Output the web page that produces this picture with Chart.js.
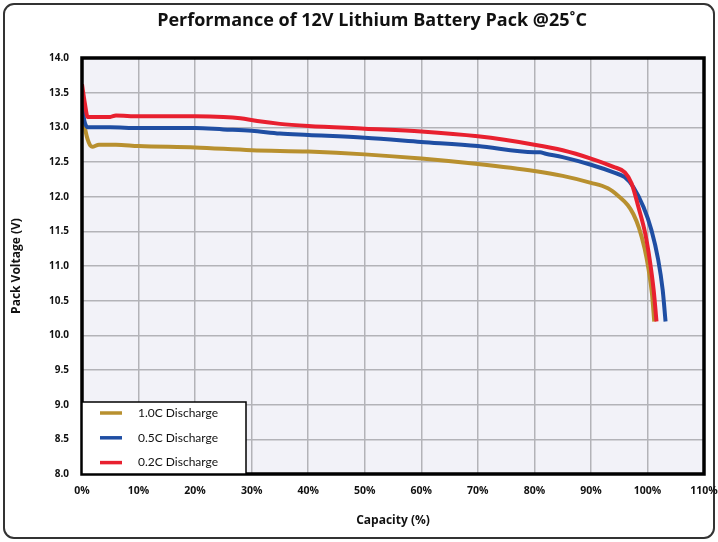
<!DOCTYPE html>
<html>
<head>
<meta charset="utf-8">
<script src="https://cdn.jsdelivr.net/npm/chart.js@4.4.0/dist/chart.umd.min.js"></script>
<style>
  html, body { margin: 0; padding: 0; background: #fff; }
  #wrap { width: 718px; height: 542px; position: relative; }
</style>
</head>
<body>
<div id="wrap"><canvas id="myChart" width="718" height="542"></canvas></div>
<script>
const titleText = 'Performance of 12V Lithium Battery Pack @25˚C';
const seriesNames = ['1.0C Discharge', '0.5C Discharge', '0.2C Discharge'];
const seriesColors = ['#b8902f', '#1f4ea3', '#e8202f'];

// capacity (%) / pack voltage (V)
const cap10 = [0, 0.5, 1.2, 1.8, 3, 6, 10, 20, 30, 40, 50, 60, 70, 80, 85, 90, 93, 95, 96.5, 97.5, 98.5, 99.5, 100.2, 100.8, 101.2];
const volt10 = [13.3, 13.0, 12.78, 12.72, 12.75, 12.75, 12.73, 12.71, 12.67, 12.65, 12.61, 12.55, 12.47, 12.37, 12.30, 12.20, 12.12, 12.0, 11.88, 11.75, 11.55, 11.25, 10.95, 10.6, 10.2];

const cap05 = [0, 0.4, 1.0, 2, 5, 10, 20, 25, 30, 35, 40, 50, 60, 70, 80, 81, 82, 85, 90, 94, 96, 97.5, 99.3, 100.7, 101.9, 102.7, 103.2];
const volt05 = [13.32, 13.1, 13.0, 13.0, 13.0, 12.99, 12.99, 12.97, 12.95, 12.91, 12.89, 12.85, 12.79, 12.73, 12.64, 12.64, 12.62, 12.57, 12.46, 12.35, 12.28, 12.14, 11.85, 11.52, 11.09, 10.65, 10.2];

const cap02 = [0, 0.5, 1.0, 2, 5, 6, 10, 20, 25, 28, 31, 35, 40, 50, 60, 70, 80, 85, 90, 94, 96, 97.2, 98.4, 99.6, 100.4, 101.1, 101.6];
const volt02 = [13.62, 13.35, 13.15, 13.15, 13.15, 13.17, 13.16, 13.16, 13.15, 13.13, 13.09, 13.05, 13.02, 12.98, 12.94, 12.87, 12.75, 12.67, 12.55, 12.43, 12.35, 12.19, 11.85, 11.47, 11.09, 10.65, 10.2];

const xTicks = [0, 10, 20, 30, 40, 50, 60, 70, 80, 90, 100, 110];
const yTicks = [8.0, 8.5, 9.0, 9.5, 10.0, 10.5, 11.0, 11.5, 12.0, 12.5, 13.0, 13.5, 14.0];

function toPoints(xs, ys) {
  let pts = [];
  for (let i = 0; i < xs.length; i++) {
    pts.push({x: xs[i], y: ys[i]});
  }
  return pts;
}

const allCaps = [cap10, cap05, cap02];
const allVolts = [volt10, volt05, volt02];
let datasets = [];
for (let i = 0; i < 3; i++) {
  datasets.push({
    label: seriesNames[i],
    data: toPoints(allCaps[i], allVolts[i]),
    borderColor: seriesColors[i],
    backgroundColor: seriesColors[i],
    borderWidth: 4,
    pointRadius: 0,
    cubicInterpolationMode: 'monotone',
  });
}
// red drawn on top, as in the picture
datasets[0].order = 3;
datasets[1].order = 2;
datasets[2].order = 1;

const framePlugin = {
  id: 'frame',
  beforeDraw(chart) {
    const ctx = chart.ctx;
    const a = chart.chartArea;
    ctx.save();
    // outer rounded border
    ctx.strokeStyle = '#333';
    ctx.lineWidth = 2;
    ctx.beginPath();
    ctx.roundRect(4, 4, 710, 534, 10);
    ctx.stroke();
    // plot background
    ctx.fillStyle = '#f2f2f8';
    ctx.fillRect(a.left, a.top, a.right - a.left, a.bottom - a.top);
    // title
    ctx.fillStyle = '#111';
    ctx.font = 'bold 18px "Open Sans"';
    ctx.textAlign = 'center';
    ctx.textBaseline = 'middle';
    ctx.fillText(titleText, 372, 21);
    ctx.restore();
  },
  afterDatasetsDraw(chart) {
    const ctx = chart.ctx;
    const a = chart.chartArea;
    ctx.save();
    ctx.strokeStyle = '#000';
    ctx.lineWidth = 3.5;
    ctx.strokeRect(a.left, a.top, a.right - a.left, a.bottom - a.top);

    // legend box in the lower left corner
    const bx = a.left, by = a.bottom - 72, bw = 164, bh = 72;
    ctx.fillStyle = '#fff';
    ctx.fillRect(bx, by, bw, bh);
    ctx.lineWidth = 1.5;
    ctx.strokeStyle = '#000';
    ctx.strokeRect(bx, by, bw, bh);
    ctx.font = '12px Lato';
    ctx.textAlign = 'left';
    ctx.textBaseline = 'middle';
    chart.data.datasets.forEach((ds, i) => {
      const y = by + 11 + i * 24.8;
      ctx.strokeStyle = ds.borderColor;
      ctx.lineWidth = 3.5;
      ctx.beginPath();
      ctx.moveTo(bx + 18, y);
      ctx.lineTo(bx + 40, y);
      ctx.stroke();
      ctx.fillStyle = '#111';
      ctx.fillText(ds.label, bx + 56, y);
    });
    ctx.restore();
  }
};

const newCanvas = document.getElementById('myChart');
let myChart = new Chart(newCanvas, {
  type: 'line',
  data: { datasets: datasets },
  options: {
    responsive: false,
    animation: false,
    layout: { padding: { top: 58, right: 14, left: 0, bottom: 0 } },
    plugins: {
      legend: { display: false },
      title: { display: false },
      tooltip: { enabled: false }
    },
    scales: {
      x: {
        type: 'linear',
        min: 0,
        max: 110,
        afterFit(scale) {
          scale.height = 68;
          scale.paddingLeft = 0;
          scale.paddingRight = 0;
        },
        afterBuildTicks(scale) { scale.ticks = xTicks.map(v => ({value: v})); },
        ticks: {
          padding: 11,
          color: '#111',
          maxRotation: 0,
          font: { family: 'Open Sans', weight: 'bold', size: 10.5 },
          callback: v => v + '%'
        },
        grid: { color: '#b3b3b8', lineWidth: 1.5, drawTicks: false },
        border: { display: false },
        title: {
          display: true,
          text: 'Capacity (%)',
          color: '#111',
          font: { family: 'Open Sans', weight: 'bold', size: 12 },
          padding: { bottom: 14 }
        }
      },
      y: {
        type: 'linear',
        min: 8,
        max: 14,
        afterFit(scale) {
          scale.width = 82;
          scale.paddingTop = 0;
          scale.paddingBottom = 0;
        },
        afterBuildTicks(scale) { scale.ticks = yTicks.map(v => ({value: v})); },
        ticks: {
          padding: 13,
          color: '#111',
          font: { family: 'Open Sans', weight: 'bold', size: 10 },
          callback: v => v.toFixed(1)
        },
        grid: { color: '#b3b3b8', lineWidth: 1.5, drawTicks: false },
        border: { display: false },
        title: {
          display: true,
          text: 'Pack Voltage (V)',
          color: '#111',
          font: { family: 'Open Sans', weight: 'bold', size: 12 },
          padding: { top: 9 }
        }
      }
    }
  },
  plugins: [framePlugin]
});
</script>
</body>
</html>
